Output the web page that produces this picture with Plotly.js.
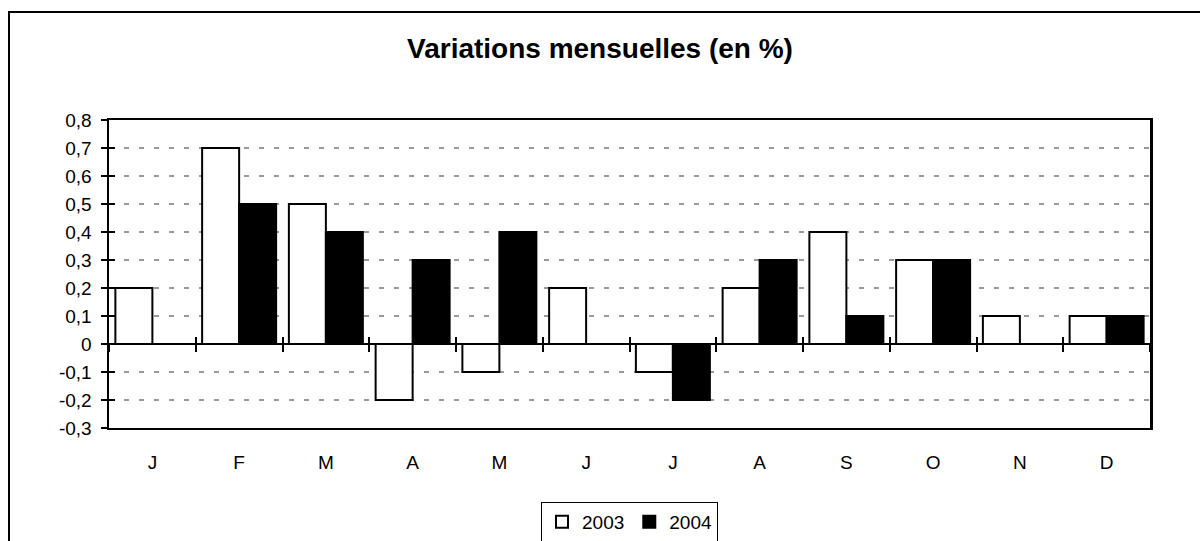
<!DOCTYPE html>
<html><head><meta charset="utf-8">
<script src="https://cdn.plot.ly/plotly-3.0.1.min.js"></script>
<style>html,body{margin:0;padding:0;background:#fff;}#chart{width:1200px;height:541px;}</style>
</head><body><div id="chart"></div>
<script>
const months = ["J","F","M","A","M","J","J","A","S","O","N","D"];
const series2003 = [0.2, 0.7, 0.5, -0.2, -0.1, 0.2, -0.1, 0.2, 0.4, 0.3, 0.1, 0.1];
const series2004 = [0, 0.5, 0.4, 0.3, 0.4, 0, -0.2, 0.3, 0.1, 0.3, 0, 0.1];
const yTickVals = [-0.3,-0.2,-0.1,0,0.1,0.2,0.3,0.4,0.5,0.6,0.7,0.8];
const yTickText = ["-0,3","-0,2","-0,1","0","0,1","0,2","0,3","0,4","0,5","0,6","0,7","0,8"];

const idx = months.map((m,i)=>i);
const bounds = months.map((m,i)=>i-0.5).concat([months.length-0.5]);
const yRange = [-0.3, 0.8];
const xRange = [-0.5, months.length-0.5];
const zeroPos = (0 - yRange[0])/(yRange[1]-yRange[0]);
const font = {family:"Liberation Sans, Arial, sans-serif", color:"#000", size:19};

const dummy = (xa, ya) => ({type:"scatter", mode:"markers", x:[null], y:[null], xaxis:xa, yaxis:ya,
                            showlegend:false, hoverinfo:"skip"});
const traces = [
  {type:"bar", name:"2003", x:idx, y:series2003, marker:{color:"#fff", line:{color:"#000", width:2}}},
  {type:"bar", name:"2004", x:idx, y:series2004, marker:{color:"#000", line:{color:"#000", width:2}}},
  dummy("x2","y"), dummy("x3","y"), dummy("x","y2")
];

const layout = {
  width:1200, height:541,
  paper_bgcolor:"#fff", plot_bgcolor:"#fff",
  font:font,
  margin:{l:109, r:50, t:120, b:113, pad:0, autoexpand:false},
  title:{text:"<b>Variations mensuelles (en %)</b>", font:{family:font.family, size:28, color:"#000"},
         x:0.5, xref:"container", xanchor:"center", y:1-48/541, yref:"container", yanchor:"middle"},
  barmode:"group", bargap:0.147, bargroupgap:0,
  showlegend:true,
  legend:{orientation:"h", x:0.5, xanchor:"center", y:-0.24, yanchor:"top",
          bordercolor:"#000", borderwidth:1, font:{family:font.family, size:19, color:"#000"},
          itemwidth:30, traceorder:"normal", tracegroupgap:0},
  xaxis:{range:xRange, tickmode:"array", tickvals:idx, ticktext:months, ticks:"",
         showline:true, linecolor:"#000", linewidth:2, mirror:true, showgrid:false, zeroline:false,
         ticklabelstandoff:16, tickfont:font},
  xaxis2:{overlaying:"x", anchor:"free", position:zeroPos, range:xRange, tickmode:"array", tickvals:bounds,
          ticks:"outside", ticklen:7, tickwidth:2, tickcolor:"#000", showticklabels:false,
          showline:false, showgrid:false, zeroline:false},
  xaxis3:{overlaying:"x", anchor:"free", position:zeroPos, range:xRange, tickmode:"array", tickvals:bounds,
          ticks:"inside", ticklen:7, tickwidth:2, tickcolor:"#000", showticklabels:false,
          showline:false, showgrid:false, zeroline:false},
  yaxis:{range:yRange, tickmode:"array", tickvals:yTickVals, ticktext:yTickText,
         ticks:"outside", ticklen:6, tickwidth:2, tickcolor:"#000",
         showline:true, linecolor:"#000", linewidth:2.5, mirror:true,
         showgrid:true, gridcolor:"#9a9a9a", gridwidth:2, griddash:"5px,10px",
         zeroline:true, zerolinecolor:"#000", zerolinewidth:2,
         ticklabelstandoff:5, tickfont:font},
  yaxis2:{overlaying:"y", anchor:"x", side:"left", range:yRange, tickmode:"array", tickvals:yTickVals,
          ticks:"inside", ticklen:6, tickwidth:2, tickcolor:"#000", showticklabels:false,
          showline:false, showgrid:false, zeroline:false},
  shapes:[{type:"rect", xref:"paper", yref:"paper",
           x0:(9-109)/1041, x1:1.2, y0:-0.6, y1:(428-12)/308,
           line:{color:"#000", width:2}, fillcolor:"rgba(0,0,0,0)", layer:"below"}]
};

Plotly.newPlot("chart", traces, layout, {displayModeBar:false, staticPlot:true});
</script></body></html>
